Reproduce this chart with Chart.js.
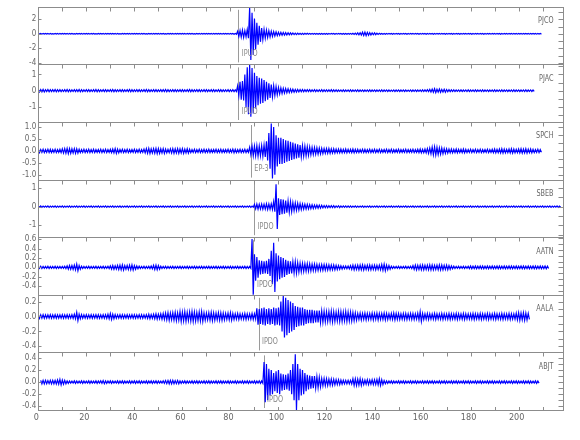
<!DOCTYPE html>
<html>
<head>
<meta charset="utf-8">
<script src="https://cdn.jsdelivr.net/npm/chart.js@4.4.1/dist/chart.umd.min.js"></script>
<style>
  body { margin: 0; background: #fff; }
  #wrap { width: 580px; height: 440px; }
</style>
</head>
<body>
<div id="wrap"><canvas id="seis" width="580" height="440"></canvas></div>
<script>
// Seismograms, one per station. Each array = envelope amplitude per 1 s bin,
// read off the picture (units of each trace's own axis).
const stations = ['PJCO', 'PJAC', 'SPCH', 'SBEB', 'AATN', 'AALA', 'ABJT'];
const pickNames = ['IPUO', 'IPUO', 'EP-3', 'IPDO', 'IPDO', 'IPDO', 'IPDO'];
const pickTimes = [83.3, 83.3, 88.5, 89.9, 89.6, 91.7, 93.8];
const traceStart = [0, 0, 0, 0, 0, 0, 1];

const pjco = [
  0.04,0.05,0.04,0.04,0.05,0.04,0.03,0.04,0.05,0.04, 0.04,0.04,0.05,0.04,0.04,0.03,0.04,0.04,0.05,0.04,
  0.04,0.05,0.04,0.04,0.03,0.04,0.04,0.05,0.04,0.04, 0.04,0.04,0.05,0.04,0.03,0.04,0.04,0.04,0.05,0.04,
  0.04,0.04,0.05,0.04,0.04,0.03,0.04,0.05,0.04,0.04, 0.05,0.04,0.04,0.03,0.04,0.04,0.05,0.04,0.04,0.04,
  0.04,0.05,0.04,0.04,0.04,0.03,0.04,0.05,0.04,0.04, 0.04,0.04,0.05,0.04,0.04,0.04,0.05,0.04,0.04,0.05,
  0.04,0.05,0.06,0.35,0.45,0.5,0.42,0.6,3.6,2.9, 2.1,1.5,1.1,0.8,0.6,0.5,0.42,0.36,0.3,0.26,
  0.22,0.2,0.18,0.16,0.14,0.12,0.11,0.1,0.09,0.08, 0.08,0.07,0.07,0.06,0.06,0.06,0.05,0.05,0.05,0.05,
  0.05,0.05,0.04,0.05,0.05,0.04,0.05,0.05,0.05,0.06, 0.06,0.08,0.1,0.13,0.16,0.22,0.25,0.2,0.16,0.13,
  0.12,0.08,0.06,0.05,0.05,0.05,0.04,0.05,0.05,0.04, 0.05,0.05,0.04,0.05,0.05,0.04,0.05,0.04,0.05,0.05,
  0.04,0.05,0.05,0.04,0.05,0.05,0.04,0.05,0.04,0.05, 0.05,0.04,0.05,0.05,0.04,0.05,0.05,0.04,0.05,0.04,
  0.05,0.05,0.04,0.05,0.04,0.05,0.05,0.04,0.05,0.04, 0.05,0.04,0.05,0.05,0.04,0.05,0.04,0.05,0.04,0.05,
  0.04,0.05,0.04,0.04,0.05,0.04,0.04,0.05,0.04,0.04
];
const pjac = [
  0.08,0.07,0.08,0.06,0.07,0.06,0.06,0.07,0.06,0.06, 0.05,0.06,0.07,0.06,0.05,0.06,0.06,0.07,0.06,0.05,
  0.06,0.06,0.05,0.06,0.07,0.06,0.05,0.06,0.06,0.05, 0.06,0.07,0.06,0.05,0.06,0.06,0.05,0.06,0.07,0.06,
  0.05,0.06,0.06,0.05,0.06,0.07,0.06,0.05,0.06,0.06, 0.05,0.06,0.06,0.07,0.06,0.05,0.06,0.06,0.05,0.06,
  0.06,0.05,0.06,0.07,0.06,0.05,0.06,0.06,0.05,0.06, 0.06,0.05,0.06,0.06,0.05,0.06,0.06,0.05,0.05,0.06,
  0.05,0.06,0.05,0.3,0.55,0.6,1.0,1.45,1.6,1.4, 1.1,0.9,0.8,0.75,0.65,0.55,0.45,0.38,0.3,0.25,
  0.2,0.17,0.15,0.13,0.12,0.1,0.09,0.08,0.08,0.07, 0.07,0.06,0.06,0.06,0.05,0.06,0.05,0.05,0.06,0.05,
  0.05,0.05,0.06,0.05,0.05,0.04,0.05,0.05,0.04,0.05, 0.05,0.04,0.05,0.05,0.04,0.05,0.04,0.05,0.05,0.04,
  0.05,0.04,0.05,0.05,0.04,0.05,0.04,0.04,0.05,0.04, 0.05,0.04,0.05,0.04,0.04,0.05,0.04,0.05,0.04,0.05,
  0.05,0.05,0.06,0.08,0.1,0.12,0.09,0.1,0.08,0.09, 0.07,0.06,0.05,0.05,0.04,0.05,0.05,0.04,0.05,0.05,
  0.04,0.05,0.05,0.04,0.05,0.05,0.04,0.05,0.04,0.05, 0.05,0.04,0.05,0.05,0.04,0.05,0.04,0.05,0.05,0.04,
  0.05,0.04,0.05,0.05,0.04,0.05,0.04
];
const spch = [
  0.07,0.06,0.07,0.06,0.07,0.07,0.06,0.07,0.06,0.07, 0.09,0.1,0.11,0.1,0.09,0.1,0.09,0.07,0.06,0.07,
  0.06,0.07,0.06,0.07,0.06,0.06,0.07,0.06,0.07,0.06, 0.07,0.08,0.1,0.08,0.06,0.07,0.06,0.07,0.06,0.06,
  0.07,0.06,0.07,0.06,0.08,0.1,0.11,0.09,0.1,0.11, 0.1,0.09,0.1,0.08,0.07,0.09,0.1,0.09,0.1,0.09,
  0.1,0.08,0.09,0.07,0.06,0.07,0.06,0.07,0.06,0.07, 0.06,0.07,0.06,0.06,0.07,0.06,0.07,0.06,0.06,0.07,
  0.06,0.08,0.07,0.06,0.07,0.06,0.07,0.06,0.15,0.2, 0.2,0.22,0.2,0.22,0.25,0.4,0.75,1.15,1.0,0.65,
  0.55,0.55,0.5,0.45,0.42,0.38,0.35,0.31,0.28,0.25, 0.22,0.2,0.18,0.16,0.15,0.14,0.13,0.12,0.11,0.1,
  0.1,0.1,0.09,0.09,0.08,0.08,0.08,0.07,0.08,0.07, 0.07,0.08,0.07,0.07,0.06,0.07,0.07,0.06,0.07,0.06,
  0.07,0.06,0.07,0.06,0.06,0.07,0.06,0.07,0.06,0.06, 0.07,0.06,0.06,0.07,0.06,0.06,0.07,0.06,0.07,0.08,
  0.07,0.08,0.1,0.12,0.16,0.17,0.15,0.13,0.12,0.1, 0.09,0.08,0.08,0.07,0.08,0.07,0.07,0.08,0.07,0.06,
  0.07,0.06,0.07,0.06,0.07,0.06,0.06,0.07,0.06,0.07, 0.08,0.07,0.08,0.09,0.08,0.07,0.08,0.09,0.08,0.07,
  0.08,0.09,0.08,0.09,0.07,0.08,0.07,0.06,0.07,0.06
];
const sbeb = [
  0.03,0.04,0.03,0.03,0.04,0.03,0.03,0.04,0.03,0.03, 0.04,0.03,0.03,0.04,0.03,0.03,0.04,0.03,0.03,0.04,
  0.03,0.03,0.04,0.03,0.03,0.04,0.03,0.03,0.04,0.03, 0.03,0.04,0.03,0.03,0.04,0.03,0.03,0.04,0.03,0.03,
  0.04,0.03,0.03,0.04,0.03,0.03,0.04,0.03,0.03,0.04, 0.03,0.03,0.04,0.03,0.03,0.04,0.03,0.03,0.04,0.03,
  0.03,0.04,0.03,0.03,0.04,0.03,0.03,0.04,0.03,0.03, 0.04,0.03,0.03,0.04,0.03,0.03,0.04,0.03,0.03,0.04,
  0.03,0.03,0.04,0.03,0.03,0.04,0.03,0.03,0.04,0.03, 0.12,0.14,0.13,0.14,0.13,0.15,0.14,0.15,0.27,1.2,
  0.45,0.4,0.38,0.33,0.3,0.27,0.22,0.2,0.18,0.16, 0.14,0.13,0.12,0.11,0.1,0.09,0.09,0.08,0.07,0.06,
  0.06,0.05,0.05,0.05,0.04,0.05,0.04,0.04,0.04,0.04, 0.04,0.03,0.04,0.03,0.03,0.04,0.03,0.03,0.04,0.03,
  0.03,0.04,0.03,0.03,0.04,0.03,0.03,0.04,0.03,0.03, 0.04,0.03,0.03,0.04,0.03,0.03,0.04,0.03,0.03,0.04,
  0.03,0.03,0.04,0.03,0.03,0.04,0.03,0.03,0.04,0.03, 0.03,0.04,0.03,0.03,0.04,0.03,0.03,0.04,0.03,0.03,
  0.04,0.03,0.03,0.04,0.03,0.03,0.04,0.03,0.03,0.04, 0.03,0.03,0.04,0.03,0.03,0.04,0.03,0.03,0.04,0.03,
  0.03,0.04,0.03,0.03,0.04,0.03,0.03,0.04,0.03,0.03, 0.04,0.03,0.03,0.04,0.03,0.03,0.04,0.03
];
const aatn = [
  0.02,0.025,0.02,0.02,0.025,0.02,0.02,0.025,0.02,0.02, 0.02,0.025,0.035,0.04,0.04,0.05,0.07,0.04,0.025,0.02,
  0.02,0.025,0.02,0.02,0.025,0.02,0.02,0.025,0.02,0.025, 0.035,0.04,0.035,0.045,0.05,0.055,0.04,0.045,0.05,0.055,
  0.04,0.03,0.025,0.02,0.025,0.02,0.025,0.03,0.045,0.05, 0.04,0.025,0.02,0.025,0.02,0.02,0.025,0.02,0.02,0.025,
  0.02,0.02,0.025,0.02,0.02,0.025,0.02,0.02,0.025,0.02, 0.02,0.025,0.02,0.02,0.025,0.02,0.02,0.025,0.02,0.02,
  0.025,0.02,0.02,0.025,0.02,0.02,0.025,0.02,0.02,0.6, 0.28,0.22,0.15,0.14,0.13,0.14,0.18,0.35,0.52,0.3,
  0.25,0.22,0.2,0.16,0.14,0.13,0.12,0.12,0.1,0.09, 0.085,0.08,0.08,0.075,0.07,0.07,0.065,0.06,0.06,0.06,
  0.055,0.055,0.05,0.05,0.045,0.04,0.035,0.03,0.03,0.03, 0.04,0.05,0.045,0.05,0.05,0.055,0.045,0.05,0.05,0.045,
  0.05,0.045,0.05,0.06,0.07,0.05,0.04,0.025,0.02,0.02, 0.025,0.02,0.02,0.025,0.02,0.025,0.04,0.05,0.045,0.05,
  0.05,0.045,0.05,0.055,0.05,0.045,0.05,0.055,0.05,0.045, 0.05,0.04,0.03,0.025,0.02,0.025,0.02,0.025,0.02,0.025,
  0.03,0.025,0.03,0.025,0.03,0.03,0.025,0.03,0.025,0.03, 0.025,0.03,0.03,0.025,0.03,0.025,0.03,0.03,0.025,0.03,
  0.025,0.03,0.03,0.025,0.03,0.025,0.03,0.03,0.025,0.03, 0.025,0.03,0.025
];
const aala = [
  0.025,0.022,0.025,0.022,0.022,0.025,0.022,0.025,0.022,0.022, 0.025,0.022,0.025,0.022,0.025,0.03,0.055,0.03,0.025,0.022,
  0.025,0.022,0.025,0.022,0.025,0.025,0.022,0.025,0.025,0.03, 0.04,0.03,0.025,0.022,0.025,0.025,0.022,0.025,0.022,0.025,
  0.025,0.022,0.025,0.025,0.022,0.025,0.03,0.025,0.03,0.035, 0.03,0.035,0.04,0.045,0.05,0.045,0.05,0.055,0.05,0.065,
  0.06,0.065,0.055,0.06,0.065,0.06,0.055,0.06,0.065,0.05, 0.045,0.05,0.055,0.05,0.045,0.05,0.05,0.045,0.04,0.045,
  0.05,0.04,0.035,0.04,0.035,0.035,0.04,0.035,0.035,0.04, 0.035,0.11,0.1,0.11,0.12,0.1,0.11,0.1,0.12,0.11,
  0.12,0.2,0.28,0.25,0.22,0.2,0.18,0.14,0.13,0.12, 0.12,0.1,0.09,0.09,0.09,0.08,0.08,0.08,0.075,0.07,
  0.065,0.065,0.07,0.065,0.06,0.065,0.065,0.06,0.065,0.06, 0.06,0.055,0.05,0.04,0.045,0.04,0.045,0.04,0.04,0.045,
  0.04,0.045,0.04,0.04,0.045,0.04,0.035,0.04,0.045,0.04, 0.04,0.035,0.04,0.04,0.035,0.04,0.04,0.035,0.045,0.065,
  0.04,0.035,0.04,0.035,0.035,0.04,0.035,0.035,0.04,0.035, 0.035,0.04,0.035,0.035,0.04,0.035,0.035,0.04,0.035,0.035,
  0.035,0.04,0.035,0.035,0.04,0.035,0.035,0.04,0.035,0.035, 0.04,0.035,0.035,0.04,0.035,0.035,0.04,0.035,0.035,0.045,
  0.05,0.045,0.05,0.045,0.04
];
const abjt = [
  0.028,0.03,0.028,0.025,0.03,0.028,0.03,0.035,0.045,0.035, 0.028,0.02,0.017,0.017,0.02,0.017,0.017,0.02,0.017,0.017,
  0.02,0.017,0.017,0.02,0.017,0.02,0.025,0.02,0.017,0.02, 0.017,0.017,0.02,0.017,0.02,0.017,0.017,0.02,0.017,0.02,
  0.017,0.02,0.017,0.017,0.02,0.017,0.02,0.017,0.02,0.017, 0.017,0.02,0.025,0.028,0.03,0.028,0.025,0.028,0.02,0.017,
  0.02,0.017,0.017,0.02,0.017,0.02,0.017,0.017,0.02,0.017, 0.02,0.017,0.017,0.02,0.017,0.02,0.017,0.017,0.02,0.017,
  0.017,0.02,0.017,0.017,0.02,0.017,0.02,0.017,0.017,0.02, 0.017,0.02,0.02,0.33,0.3,0.22,0.2,0.15,0.18,0.2,
  0.14,0.13,0.12,0.14,0.2,0.3,0.46,0.3,0.22,0.2, 0.15,0.12,0.11,0.1,0.1,0.09,0.08,0.06,0.06,0.055,
  0.05,0.05,0.045,0.04,0.04,0.035,0.03,0.03,0.028,0.03, 0.055,0.055,0.05,0.055,0.04,0.035,0.04,0.035,0.04,0.04,
  0.045,0.055,0.04,0.025,0.02,0.017,0.02,0.017,0.017,0.02, 0.017,0.02,0.017,0.017,0.02,0.017,0.02,0.017,0.017,0.02,
  0.017,0.02,0.017,0.02,0.017,0.017,0.02,0.017,0.02,0.017, 0.017,0.02,0.017,0.02,0.017,0.017,0.02,0.017,0.02,0.017,
  0.017,0.02,0.017,0.02,0.017,0.017,0.02,0.017,0.02,0.017, 0.017,0.02,0.017,0.02,0.017,0.017,0.02,0.017,0.02,0.017,
  0.017,0.02,0.017,0.02,0.017,0.017,0.02,0.017
];
const traces = [pjco, pjac, spch, sbeb, aatn, aala, abjt];

// axis ranges and tick labels
const yMin = [-4.2, -1.93, -1.2, -1.64, -0.58, -0.48, -0.46];
const yMax = [3.71, 1.62, 1.21, 1.45, 0.64, 0.29, 0.49];
const yTickText = [
  ['2', '0', '-2', '-4'],
  ['1', '0', '-1'],
  ['1.0', '0.5', '0.0', '-0.5', '-1.0'],
  ['1', '0', '-1'],
  ['0.6', '0.4', '0.2', '0.0', '-0.2', '-0.4'],
  ['0.2', '0.0', '-0.2', '-0.4'],
  ['0.4', '0.2', '0.0', '-0.2', '-0.4']
];
const yMinorStep = [1, 0.5, 1 / 3, 0.5, 0.125, 0.1, 0.1];
const xTicks = [0, 20, 40, 60, 80, 100, 120, 140, 160, 180, 200];
const xMax = 218.6;

const FONT = "'Liberation Sans Narrow', 'DejaVu Sans Condensed', 'Liberation Sans', sans-serif";
const AXIS = '#8c8c8c';

// zigzag between +amp and -amp, two points per second
function wave(amps, t0) {
  const pts = [];
  amps.forEach((a, i) => {
    pts.push({ x: t0 + i, y: a });
    pts.push({ x: t0 + i + 0.5, y: -a });
  });
  return pts;
}

const scales = {
  x: {
    type: 'linear', min: 0, max: xMax,
    grid: { display: false, drawTicks: false },
    border: { display: false },
    afterBuildTicks: s => { s.ticks = xTicks.map(v => ({ value: v })); },
    afterFit: s => { s.height = 30; },
    ticks: { color: '#666', font: { family: FONT, size: 9 }, padding: 2, labelOffset: -2, maxRotation: 0, autoSkip: false }
  }
};
// stacked y axes: left boxes are placed in reverse order, so add the bottom one first
for (let i = stations.length - 1; i >= 0; i--) {
  scales['y' + i] = {
    type: 'linear', position: 'left', stack: 'traces', stackWeight: 1,
    min: yMin[i], max: yMax[i],
    grid: { display: false, drawTicks: false },
    border: { display: false },
    afterBuildTicks: s => { s.ticks = yTickText[i].map(t => ({ value: parseFloat(t) })); },
    afterFit: s => { s.width = 38.3; },
    ticks: {
      color: '#666', font: { family: FONT, size: 8 }, padding: 2, autoSkip: false,
      callback: (v, idx) => yTickText[i][idx]
    }
  };
}

function line(ctx, x1, y1, x2, y2) {
  ctx.beginPath(); ctx.moveTo(x1, y1); ctx.lineTo(x2, y2); ctx.stroke();
}

const decor = {
  id: 'decor',
  beforeDatasetsDraw(chart) {
    const ctx = chart.ctx, xs = chart.scales.x;
    ctx.save();
    ctx.strokeStyle = '#9a9a9a';
    ctx.lineWidth = 1;
    stations.forEach((s, i) => {
      const ys = chart.scales['y' + i];
      const px = Math.round(xs.getPixelForValue(pickTimes[i])) + 0.5;
      line(ctx, px, ys.top + 3, px, ys.bottom - 2);
    });
    ctx.restore();
  },
  afterDraw(chart) {
    const ctx = chart.ctx, xs = chart.scales.x, a = chart.chartArea;
    ctx.save();
    ctx.strokeStyle = AXIS;
    ctx.lineWidth = 1;
    const L = Math.round(a.left) + 0.5, R = Math.round(a.right) + 0.5;
    ctx.strokeRect(L, Math.round(a.top) + 0.5, R - L, Math.round(a.bottom) - Math.round(a.top));
    stations.forEach((s, i) => {
      const ys = chart.scales['y' + i];
      const top = Math.round(ys.top) + 0.5;
      line(ctx, L, top, R, top);
      // top ticks every 10 s
      for (let t = 0; t <= xMax; t += 10) {
        const px = Math.round(xs.getPixelForValue(t)) + 0.5;
        line(ctx, px, top, px, top + 4);
      }
      // left ticks at labels
      yTickText[i].forEach(tt => {
        const py = Math.round(ys.getPixelForValue(parseFloat(tt))) + 0.5;
        line(ctx, L, py, L + 3, py);
      });
      // right minor ticks, counted out from zero
      const st = yMinorStep[i];
      for (let k = Math.ceil(yMin[i] / st - 1e-9); k * st <= yMax[i] + 1e-9; k++) {
        const py = Math.round(ys.getPixelForValue(k * st)) + 0.5;
        line(ctx, R - 5, py, R, py);
      }
      // station name, narrow text
      ctx.fillStyle = '#666';
      ctx.font = '9px ' + FONT;
      ctx.textAlign = 'right';
      ctx.textBaseline = 'middle';
      ctx.save();
      ctx.translate(553.5, ys.top + 14);
      ctx.scale(0.8, 1);
      ctx.fillText(s, 0, 0);
      ctx.restore();
      // pick label
      ctx.fillStyle = '#888';
      ctx.textAlign = 'left';
      ctx.save();
      ctx.translate(xs.getPixelForValue(pickTimes[i]) + 3.5, ys.top + 47);
      ctx.scale(0.8, 1);
      ctx.fillText(pickNames[i], 0, 0);
      ctx.restore();
    });
    // bottom ticks
    const b = Math.round(a.bottom) + 0.5;
    for (let t = 0; t <= xMax; t += 10) {
      const px = Math.round(xs.getPixelForValue(t)) + 0.5;
      line(ctx, px, b, px, b - 3.5);
    }
    ctx.restore();
  }
};

new Chart(document.getElementById('seis'), {
  type: 'line',
  data: {
    datasets: traces.map((amps, i) => ({
      label: stations[i],
      data: wave(amps, traceStart[i]),
      yAxisID: 'y' + i,
      borderColor: '#0000ff',
      borderWidth: 1.2,
      pointRadius: 0,
      tension: 0,
      fill: false
    }))
  },
  options: {
    responsive: false,
    animation: false,
    parsing: false,
    layout: { padding: { top: 5, right: 16.7, left: 0, bottom: 0 } },
    plugins: { legend: { display: false }, tooltip: { enabled: false } },
    scales: scales
  },
  plugins: [decor]
});
</script>
</body>
</html>
